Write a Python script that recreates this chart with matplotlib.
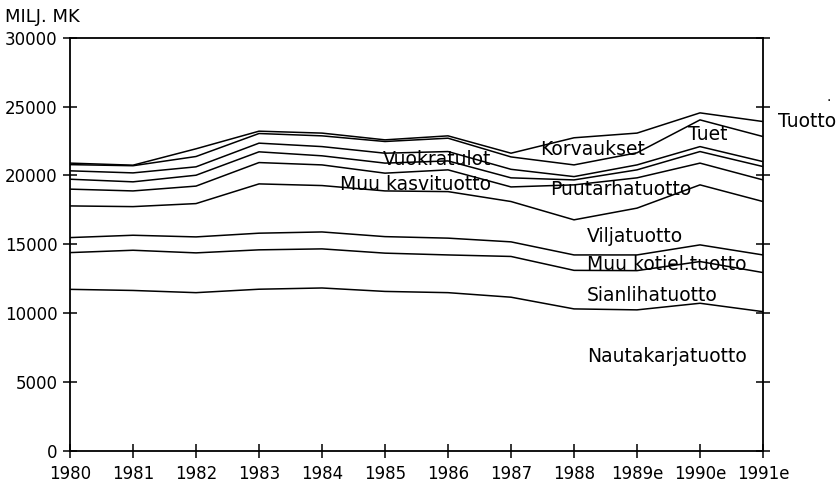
import numpy as np
import matplotlib.pyplot as plt

# Maatalouden kokonaistuotto, milj. mk (luettu kuvasta, kertyvät osat alhaalta ylös)
vuodet = ['1980', '1981', '1982', '1983', '1984', '1985', '1986', '1987',
          '1988', '1989e', '1990e', '1991e']
nautakarja = [11720, 11640, 11480, 11730, 11820, 11570, 11480, 11150, 10300, 10230, 10710, 10100]
sianliha = [2670, 2920, 2890, 2860, 2840, 2780, 2740, 2960, 2800, 2850, 3030, 2840]
muu_kotiel = [1090, 1090, 1160, 1210, 1230, 1200, 1220, 1060, 1120, 1140, 1210, 1280]
vilja = [2300, 2080, 2420, 3580, 3370, 3320, 3380, 2930, 2550, 3400, 4360, 3880]
muu_kasvi = [1220, 1140, 1270, 1550, 1500, 1290, 1580, 1060, 2540, 2200, 1580, 1570]
puutarha = [720, 660, 790, 780, 660, 730, 650, 660, 360, 580, 840, 970]
vuokra = [610, 650, 610, 630, 670, 720, 680, 620, 240, 360, 360, 360]
tuet = [450, 520, 750, 700, 780, 850, 970, 900, 850, 880, 1940, 1820]
korvaukset = [110, 40, 560, 170, 200, 120, 170, 270, 1970, 1430, 510, 1090]

# --- tekstien paikat (x = vuoden indeksi, y = milj. mk) ---
nimiot = [
    ('Nautakarjatuotto', 8.21, 6450),
    ('Sianlihatuotto', 8.21, 10880),
    ('Muu kotiel.tuotto', 8.21, 13130),
    ('Viljatuotto', 8.21, 15170),
    ('Puutarhatuotto', 7.62, 18580),
    ('Muu kasvituotto', 4.29, 18950),
    ('Vuokratulot', 4.97, 20760),
    ('Korvaukset', 7.46, 21490),
    ('Tuet', 9.81, 22580),
    ('Tuotto', 11.24, 23520),
]

plt.rcParams['font.family'] = ['DejaVu Sans']

fig = plt.figure(figsize=(8.4, 4.82), dpi=100)
ax = fig.add_axes([70 / 840, 1 - 450.7 / 482, 693 / 840, 413 / 482])

x = np.arange(len(vuodet))
osat = np.vstack([nautakarja, sianliha, muu_kotiel, vilja, muu_kasvi,
                  puutarha, vuokra, tuet, korvaukset])
kertyma = np.cumsum(osat, axis=0)

for rivi in kertyma:
    ax.plot(x, rivi, color='black', linewidth=1.1)

ax.set_xlim(0, len(vuodet) - 1)
ax.set_ylim(0, 30000)
ax.set_xticks(x)
ax.set_xticklabels(vuodet)
ax.set_yticks(np.arange(0, 30001, 5000))

ax.tick_params(axis='both', direction='inout', length=10, width=1.1,
               labelsize=12, colors='black')
ax.tick_params(axis='x', pad=5)
ax.tick_params(axis='y', pad=4, right=True, labelright=False)
for s in ax.spines.values():
    s.set_linewidth(1.3)

for teksti, tx, ty in nimiot:
    ax.text(tx, ty, teksti, fontsize=13.5, va='baseline', ha='left', clip_on=False)

fig.text(5 / 840, 1 - 22 / 482, 'MILJ. MK', fontsize=13, va='baseline', ha='left')
fig.text(826 / 840, 1 - 101 / 482, '.', fontsize=10, va='baseline', ha='left')

fig.savefig('out.png', dpi=100)
